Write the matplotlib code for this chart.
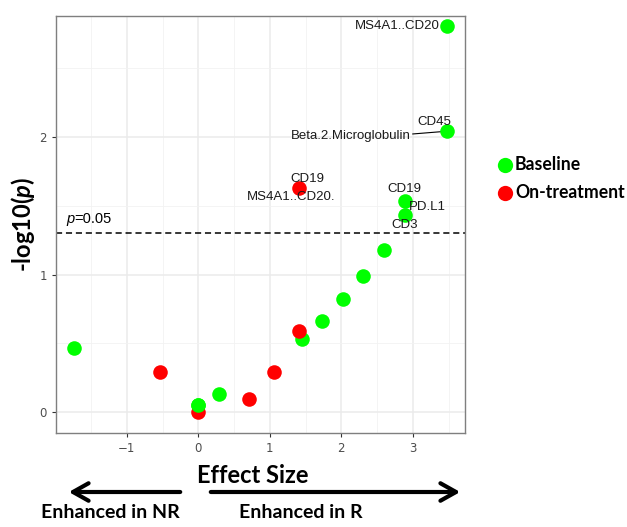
import numpy as np
import matplotlib
matplotlib.use('Agg')
import matplotlib.pyplot as plt
from matplotlib.patches import FancyArrowPatch
from matplotlib.lines import Line2D
from matplotlib.ticker import MultipleLocator

plt.rcParams['mathtext.fontset'] = 'custom'
plt.rcParams['mathtext.it'] = 'Lato:italic:bold'
plt.rcParams['mathtext.rm'] = 'Lato:bold'

# effect size / -log10(p) per marker
base_x = [-1.74, 0.0, 0.29, 1.45, 1.73, 2.02, 2.30, 2.60, 2.89, 2.89, 3.48, 3.48]
base_y = [0.47, 0.05, 0.13, 0.53, 0.66, 0.82, 0.99, 1.18, 1.43, 1.53, 2.04, 2.80]
treat_x = [0.0, -0.54, 0.71, 1.06, 1.41, 1.41]
treat_y = [0.0, 0.29, 0.10, 0.29, 0.59, 1.63]

# gene labels: text, label x, label y, point x, point y, alignment
labels = [
    ("MS4A1..CD20", 3.38, 2.80, None, None, 'right'),
    ("CD45", 3.30, 2.11, None, None, 'center'),
    ("Beta.2.Microglobulin", 2.13, 2.005, 3.48, 2.04, 'center'),
    ("CD19", 1.52, 1.69, None, None, 'center'),
    ("MS4A1..CD20.", 1.30, 1.56, None, None, 'center'),
    ("CD19", 2.88, 1.62, 2.89, 1.53, 'center'),
    ("PD.L1", 3.20, 1.49, None, None, 'center'),
    ("CD3", 2.89, 1.36, None, None, 'center'),
]
p_cut = -np.log10(0.05)

fig = plt.figure(figsize=(6.27, 5.27), dpi=100)
ax = fig.add_axes([56/627, 1-433/527, 409/627, 417/527])
ax.set_xlim(-1.99, 3.73)
ax.set_ylim(-0.15, 2.876)

ax.xaxis.set_major_locator(MultipleLocator(1))
ax.xaxis.set_minor_locator(MultipleLocator(0.5))
ax.yaxis.set_major_locator(MultipleLocator(1))
ax.yaxis.set_minor_locator(MultipleLocator(0.5))
ax.grid(which='major', color='#ebebeb', lw=1.1, zorder=0)
ax.grid(which='minor', color='#f2f2f2', lw=0.6, zorder=0)
ax.set_axisbelow(True)
for s in ax.spines.values():
    s.set_color('#7f7f7f')
    s.set_linewidth(1.0)
ax.tick_params(which='major', length=3, color='#333333', labelcolor='#4d4d4d',
               labelsize=8.5)
ax.tick_params(which='minor', length=0)

ax.axhline(p_cut, color='black', lw=1.1, ls=(0, (4, 2.5)), zorder=2)
ax.text(-1.84, p_cut + 0.05, 'p', style='italic', fontsize=10.5,
        family='Liberation Sans', va='bottom')
ax.text(-1.74, p_cut + 0.05, '=0.05', fontsize=10.5,
        family='Liberation Sans', va='bottom')

ax.scatter(base_x, base_y, s=110, color='#00ff00', zorder=3, linewidths=0)
ax.scatter(treat_x, treat_y, s=110, color='#ff0000', zorder=3, linewidths=0)
# the green point at zero sits over the red one
ax.scatter(base_x[1:2], base_y[1:2], s=110, color='#00ff00', zorder=4, linewidths=0)

for txt, lx, ly, px, py, ha in labels:
    if px is not None:
        if txt.startswith('Beta'):
            ax.plot([3.0, px], [2.02, py], color='black', lw=0.8, zorder=2)
        else:
            ax.plot([px, px], [1.57, py + 0.01], color='black', lw=0.8, zorder=2)
    ax.text(lx, ly, txt, ha=ha, va='center', fontsize=9.5, color='#1a1a1a',
            family='Liberation Sans', zorder=5)

ax.set_xlabel('Effect Size', family='Lato', fontweight='bold', fontsize=17)
ax.xaxis.set_label_coords(0.482, -0.075)
ax.set_ylabel('-log10($p$)', family='Lato', fontweight='bold', fontsize=17,
              labelpad=2)

# legend drawn outside the panel
for i, (name, col) in enumerate([('Baseline', '#00ff00'), ('On-treatment', '#ff0000')]):
    yy = 1 - (165 + 28*i)/527
    fig.add_artist(Line2D([505/627], [yy], marker='o', markersize=11, color=col,
                          markeredgewidth=0, transform=fig.transFigure))
    fig.text(515/627, yy, name, family='Lato', fontweight='bold', fontsize=12.7,
             va='center', ha='left')

# direction arrows under the x-axis
for x0, x1 in [(183, 66), (208, 463)]:
    fig.patches.append(FancyArrowPatch((x0/627, 1-492/527), (x1/627, 1-492/527),
                                       transform=fig.transFigure,
                                       arrowstyle='->,head_length=0.8,head_width=0.45',
                                       lw=3, color='black', mutation_scale=14))
fig.text(110/627, 1-513/527, 'Enhanced in NR', family='Lato', fontweight='bold',
         fontsize=14, ha='center', va='center')
fig.text(301/627, 1-513/527, 'Enhanced in R', family='Lato', fontweight='bold',
         fontsize=14, ha='center', va='center')

fig.savefig('out.png', dpi=100)
